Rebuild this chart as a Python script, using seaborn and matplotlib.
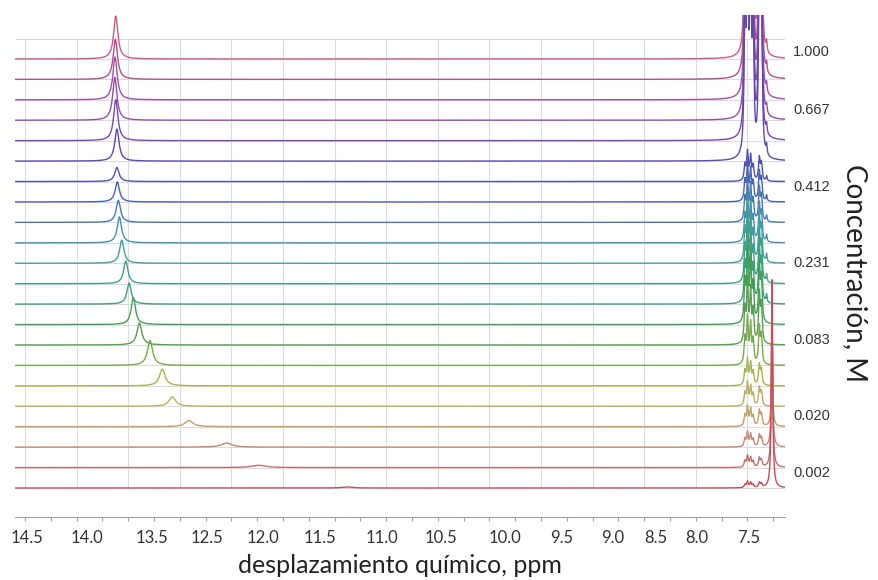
import numpy as np
import pandas as pd
import matplotlib
matplotlib.use("Agg")
import matplotlib.pyplot as plt
import seaborn as sns

# ---- data (bottom trace = lowest concentration) ----
# downfield (NH) signal: position (ppm), height (in trace-offset units), width (ppm)
nh_ppm = [11.380, 12.239, 12.546, 12.911, 13.073, 13.170, 13.289, 13.392, 13.451, 13.492, 13.524,
          13.563, 13.586, 13.596, 13.606, 13.610, 13.610, 13.621, 13.630, 13.628, 13.625, 13.621]
nh_height = [0.05, 0.11, 0.20, 0.31, 0.47, 0.82, 1.22, 1.08, 1.32, 1.03, 1.11,
             1.13, 1.27, 1.08, 0.98, 0.69, 1.57, 2.01, 2.10, 2.10, 1.96, 2.10]
nh_width = [0.12, 0.16, 0.12, 0.09, 0.075, 0.065, 0.06, 0.055, 0.05, 0.05, 0.05,
            0.05, 0.05, 0.05, 0.05, 0.05, 0.05, 0.05, 0.05, 0.05, 0.05, 0.05]

# aromatic multiplet: line positions and relative intensities, scaled per trace
arom_ppm = [7.525, 7.500, 7.470, 7.445, 7.385, 7.365]
arom_rel = [0.55, 1.0, 0.85, 0.5, 0.8, 0.6]
arom_scale = [0.29, 0.54, 0.69, 0.93, 1.08, 1.22, 2.20, 2.94, 3.43, 3.18, 2.94,
              2.69, 2.20, 1.96, 1.71, 1.37, 11.7, 12.2, 12.2, 12.2, 12.2, 12.2]
# small line near 7.31 ppm and residual CHCl3 at 7.26 ppm
small_height = [0, 0, 0, 0, 0, 0, 0, 0, 0, 0.39, 0.39,
                0.39, 0.34, 0.29, 0.29, 0.24, 0.44, 0.44, 0.39, 0.44, 0.44, 0.49]
chcl3_height = [10.2, 8.0, 6.0, 4.0, 0, 0, 0, 0, 0, 0, 0,
                0, 0, 0, 0, 0, 0, 0, 0, 0, 0, 0]

trace_colors = ["#c4505e", "#c07070", "#c08a72", "#c0a066", "#b8b062", "#a8b452", "#78a848",
                "#58a050", "#40a058", "#40a078", "#40a08a", "#40a0a0", "#4890b0", "#4878b0",
                "#4862b0", "#5050b0", "#6048b0", "#7848b0", "#9050b0", "#a050a8", "#b05090",
                "#c8607a"]

conc_labels = ["1.000", "0.667", "0.412", "0.231", "0.083", "0.020", "0.002"]
conc_label_pos = [21.34, 18.50, 14.73, 11.01, 7.24, 3.52, 0.73]

x_labels = ["14.5", "14.0", "13.5", "12.5", "12.0", "11.5", "11.0", "10.5", "10.0",
            "9.5", "9.0", "8.5", "8.0", "7.5"]
x_label_pos = [14.48, 13.90, 13.27, 12.74, 12.19, 11.64, 11.04, 10.47, 9.85,
               9.30, 8.81, 8.39, 7.99, 7.49]

x_min, x_max = 7.136, 14.597


def lorentz(x, x0, h, w):
    return h / (1 + ((x - x0) / (w / 2)) ** 2)


ppm = np.linspace(x_max, x_min, 7000)
frames = []
for i in range(len(nh_ppm)):
    y = lorentz(ppm, nh_ppm[i], nh_height[i], nh_width[i])
    for p, r in zip(arom_ppm, arom_rel):
        y += lorentz(ppm, p, arom_scale[i] * r, 0.018)
    y += lorentz(ppm, 7.315, small_height[i], 0.012)
    y += lorentz(ppm, 7.262, chcl3_height[i], 0.015)
    frames.append(pd.DataFrame({"ppm": ppm, "signal": y + i, "trace": i}))
df = pd.concat(frames, ignore_index=True)

sns.set_theme(style="white")
plt.rcParams["font.family"] = ["Lato", "DejaVu Sans"]

fig = plt.figure(figsize=(8.79, 5.80), dpi=100)
ax = fig.add_axes([0.0171, 0.1086, 0.876, 0.8655])

n = len(nh_ppm)
grid_c = "#dcdcdc"
ax.hlines(range(n + 1), x_min, x_max, color=grid_c, lw=0.8, zorder=0)
ax.vlines(np.arange(7.5, 14.51, 0.5), 0, n, color=grid_c, lw=0.8, zorder=0)
ax.vlines([x_min], 0, n, color=grid_c, lw=0.8, zorder=0)

# draw top traces first so the lower ones sit on top
order = list(range(n - 1, -1, -1))
sns.lineplot(data=df, x="ppm", y="signal", hue="trace", hue_order=order,
             palette=dict(zip(range(n), trace_colors)), estimator=None, sort=False,
             legend=False, lw=1.0, ax=ax)

ax.set_xlim(x_max, x_min)
ax.set_ylim(-1.42, 23.15)

ax.set_xticks(x_label_pos, x_labels)
ax.set_xticks(np.arange(7.25, 14.51, 0.25), minor=True)
ax.tick_params(axis="x", which="major", length=0, pad=9, labelsize=12, labelcolor="#333333")
ax.tick_params(axis="x", which="minor", length=3, width=0.8, color="#a0a0a0", bottom=True)
ax.set_yticks([])
ax.set_xlabel("desplazamiento químico, ppm", fontsize=18, color="#222222", labelpad=6)
ax.set_ylabel("")

for s in ["top", "left", "right"]:
    ax.spines[s].set_visible(False)
ax.spines["bottom"].set_color("#a0a0a0")
ax.spines["bottom"].set_linewidth(0.8)

for lab, yv in zip(conc_labels, conc_label_pos):
    ax.annotate(lab, xy=(1, yv), xycoords=("axes fraction", "data"), xytext=(6, 0),
                textcoords="offset points", va="center", ha="left", fontsize=10.5,
                color="#333333", family=["Liberation Sans", "DejaVu Sans"])

fig.text(855 / 879, 1 - 273 / 580, "Concentración, M", rotation=270, ha="center",
         va="center", fontsize=20, color="#222222")

fig.savefig("out.png", dpi=100)
